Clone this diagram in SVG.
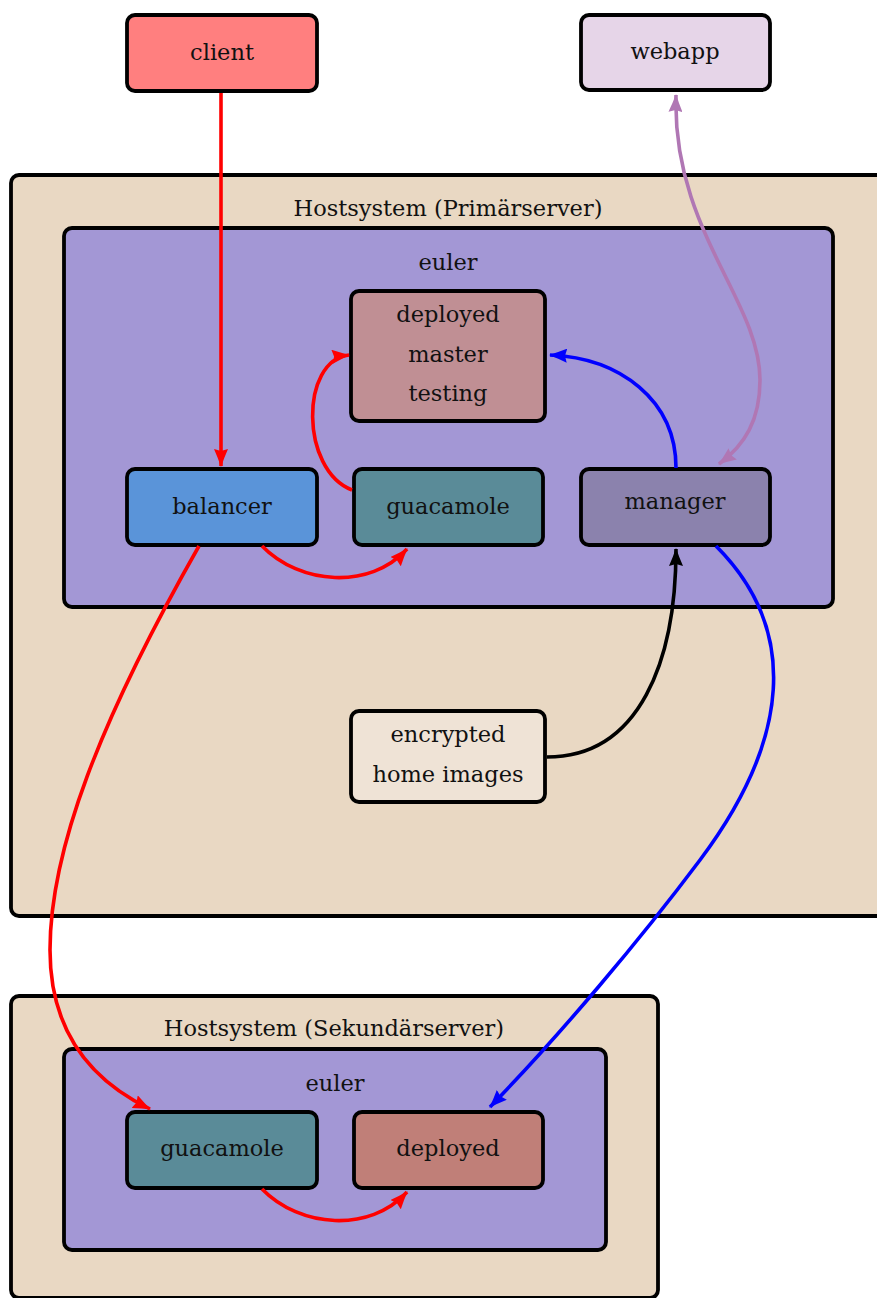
<svg xmlns="http://www.w3.org/2000/svg" width="877" height="1298" viewBox="0 0 877 1298">
<defs>
<style>
.box{stroke:#000;stroke-width:3.8}
.t{font-family:"DejaVu Serif","Liberation Serif",serif;font-size:22.5px;fill:#111;text-anchor:middle}
.c{fill:none;stroke-width:3.6}
</style>
<marker id="ar" viewBox="0 0 18 14" refX="17" refY="7" markerWidth="18" markerHeight="14" markerUnits="userSpaceOnUse" orient="auto-start-reverse"><path d="M0,0 Q9,4 18,7 Q9,10 0,14 L2,7 Z" fill="#f00"/></marker>
<marker id="ab" viewBox="0 0 18 14" refX="17" refY="7" markerWidth="18" markerHeight="14" markerUnits="userSpaceOnUse" orient="auto-start-reverse"><path d="M0,0 Q9,4 18,7 Q9,10 0,14 L2,7 Z" fill="#00f"/></marker>
<marker id="ak" viewBox="0 0 18 14" refX="17" refY="7" markerWidth="18" markerHeight="14" markerUnits="userSpaceOnUse" orient="auto-start-reverse"><path d="M0,0 Q9,4 18,7 Q9,10 0,14 L2,7 Z" fill="#000"/></marker>
<marker id="ap" viewBox="0 0 18 14" refX="17" refY="7" markerWidth="18" markerHeight="14" markerUnits="userSpaceOnUse" orient="auto-start-reverse"><path d="M0,0 Q9,4 18,7 Q9,10 0,14 L2,7 Z" fill="#b077b4"/></marker>
</defs>
<rect width="877" height="1298" fill="#fff"/>

<g id="primary">
<rect class="box" x="11" y="175" width="880" height="741" rx="8" fill="#e9d8c3"/>
<text class="t" x="448" y="216">Hostsystem (Primärserver)</text>
</g>
<g id="euler1">
<rect class="box" x="64" y="228" width="769" height="379" rx="8" fill="#a397d5"/>
<text class="t" x="448" y="270">euler</text>
</g>
<g id="secondary">
<rect class="box" x="11" y="996" width="647" height="302" rx="8" fill="#e9d8c3"/>
<text class="t" x="334" y="1036">Hostsystem (Sekundärserver)</text>
</g>
<g id="euler2">
<rect class="box" x="64" y="1049" width="542" height="201" rx="8" fill="#a397d5"/>
<text class="t" x="335" y="1091">euler</text>
</g>

<g id="client">
<rect class="box" x="127" y="15" width="190" height="76" rx="8" fill="#ff7f7f"/>
<text class="t" x="222" y="60">client</text>
</g>
<g id="webapp">
<rect class="box" x="581" y="15" width="189" height="75" rx="8" fill="#e6d5e8"/>
<text class="t" x="675" y="59">webapp</text>
</g>
<g id="dmt">
<rect class="box" x="351" y="291" width="194" height="130" rx="8" fill="#c08f94"/>
<text class="t" x="448" y="322">deployed</text>
<text class="t" x="448" y="362">master</text>
<text class="t" x="448" y="401">testing</text>
</g>
<g id="balancer">
<rect class="box" x="127" y="469" width="190" height="76" rx="8" fill="#5a94d9"/>
<text class="t" x="222" y="514">balancer</text>
</g>
<g id="guacamole1">
<rect class="box" x="354" y="469" width="189" height="76" rx="8" fill="#5a8b98"/>
<text class="t" x="448" y="514">guacamole</text>
</g>
<g id="manager">
<rect class="box" x="581" y="469" width="189" height="76" rx="8" fill="#8b82ad"/>
<text class="t" x="675" y="509">manager</text>
</g>
<g id="encrypted">
<rect class="box" x="351" y="711" width="194" height="91" rx="8" fill="#efe3d6"/>
<text class="t" x="448" y="742">encrypted</text>
<text class="t" x="448" y="782">home images</text>
</g>
<g id="guacamole2">
<rect class="box" x="127" y="1112" width="190" height="76" rx="8" fill="#5a8b98"/>
<text class="t" x="222" y="1156">guacamole</text>
</g>
<g id="deployed2">
<rect class="box" x="354" y="1112" width="189" height="76" rx="8" fill="#c07f78"/>
<text class="t" x="448" y="1156">deployed</text>
</g>

<g id="connectors">
<path class="c" stroke="#f00" marker-end="url(#ar)" d="M221,93 L221,466"/>
<path class="c" stroke="#f00" marker-end="url(#ar)" d="M262,546 C300,585 370,590 407,549"/>
<path class="c" stroke="#f00" marker-end="url(#ar)" d="M352,490 C300,470 300,360 349,355"/>
<path class="c" stroke="#00f" marker-end="url(#ab)" d="M676,468 C676,400 620,358 550,355"/>
<path class="c" stroke="#b077b4" marker-start="url(#ap)" marker-end="url(#ap)" d="M676,95 C672,230 760,300 760,380 C760,420 745,445 719,464"/>
<path class="c" stroke="#000" marker-end="url(#ak)" d="M547,757 C640,757 676,660 676,549"/>
<path class="c" stroke="#00f" marker-end="url(#ab)" d="M716,546 C800,630 790,740 700,860 C640,940 560,1035 490,1107"/>
<path class="c" stroke="#f00" marker-end="url(#ar)" d="M199,546 C100,720 50,850 50,950 C50,1030 90,1080 150,1109"/>
<path class="c" stroke="#f00" marker-end="url(#ar)" d="M262,1189 C300,1228 370,1233 407,1192"/>
</g>
</svg>
